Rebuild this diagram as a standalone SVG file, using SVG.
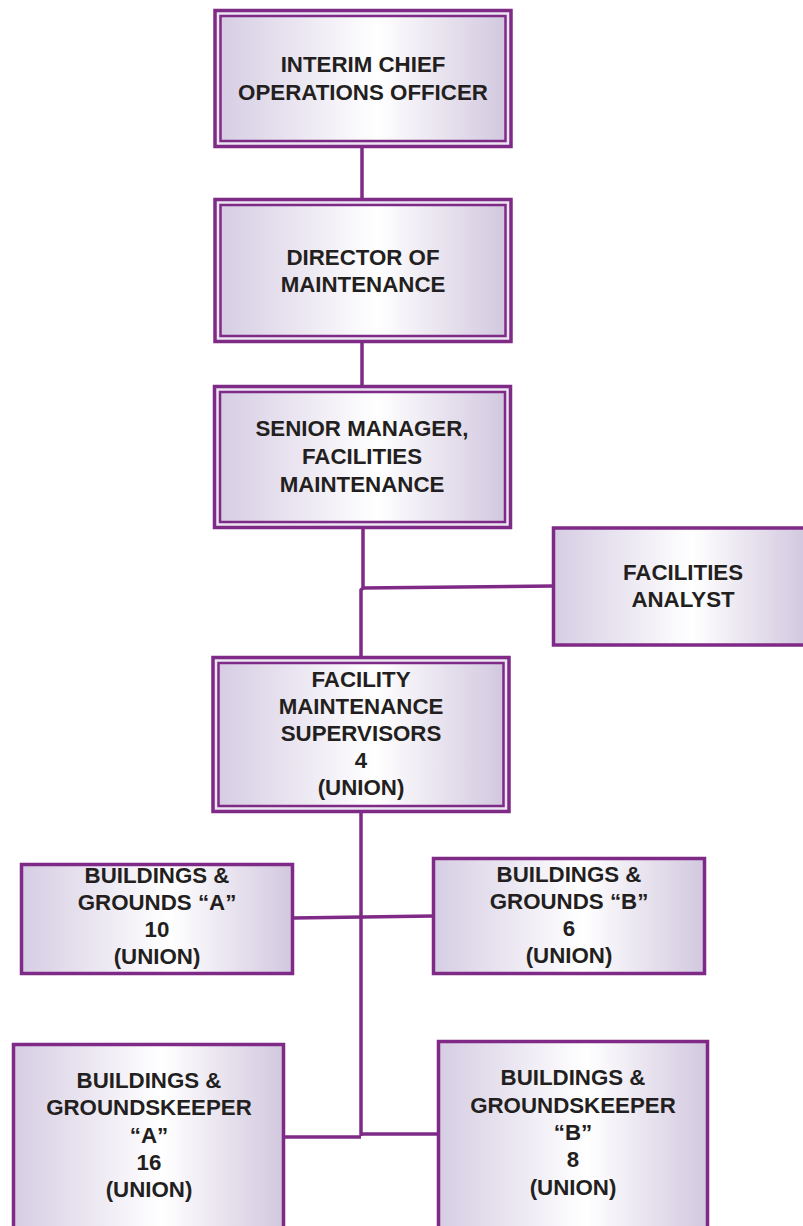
<svg xmlns="http://www.w3.org/2000/svg" width="803" height="1226" viewBox="0 0 803 1226">
  <defs>
    <linearGradient id="shade" x1="0" y1="0" x2="1" y2="0">
      <stop offset="0" stop-color="#d6cde3"/>
      <stop offset="0.55" stop-color="#ffffff"/>
      <stop offset="1" stop-color="#d2c8df"/>
    </linearGradient>
  </defs>
  <style>
    .frame { fill: #ebe6f1; stroke: #7f2a86; stroke-width: 3.5; }
    .inner { fill: url(#shade); stroke: #7f2a86; stroke-width: 2.5; }
    .box { fill: url(#shade); stroke: #7f2a86; stroke-width: 3.5; }
    .link { fill: none; stroke: #7f2a86; stroke-width: 3.5; }
    text { font-family: "Liberation Sans", Arial, sans-serif; font-weight: bold; font-size: 22.3px; fill: #231f20; text-anchor: middle; }
  </style>

  <!-- connectors -->
  <g id="connectors">
    <line class="link" x1="362" y1="148" x2="362" y2="199"/>
    <line class="link" x1="362" y1="342" x2="362" y2="386"/>
    <polyline class="link" points="363,529 363,588 361,590 361,657"/>
    <line class="link" x1="362" y1="588" x2="553" y2="586"/>
    <line class="link" x1="361" y1="813" x2="361" y2="1136"/>
    <line class="link" x1="293" y1="918" x2="433" y2="916"/>
    <line class="link" x1="285" y1="1137" x2="361" y2="1137"/>
    <line class="link" x1="361" y1="1134" x2="438" y2="1134"/>
  </g>

  <!-- top chain: double-framed boxes -->
  <g id="interim-chief">
    <rect class="frame" x="215" y="10.5" width="296" height="136"/>
    <rect class="inner" x="220.5" y="16" width="285" height="125"/>
    <text x="363" y="72">INTERIM CHIEF</text>
    <text x="363" y="100">OPERATIONS OFFICER</text>
  </g>

  <g id="director-maintenance">
    <rect class="frame" x="215" y="199.5" width="296" height="142"/>
    <rect class="inner" x="220.5" y="205" width="285" height="131"/>
    <text x="363" y="265">DIRECTOR OF</text>
    <text x="363" y="292">MAINTENANCE</text>
  </g>

  <g id="senior-manager">
    <rect class="frame" x="214.5" y="386.5" width="296" height="141"/>
    <rect class="inner" x="220" y="392" width="285" height="130"/>
    <text x="362" y="436">SENIOR MANAGER,</text>
    <text x="362" y="464">FACILITIES</text>
    <text x="362" y="492">MAINTENANCE</text>
  </g>

  <g id="facilities-analyst">
    <rect class="box" x="553.5" y="528" width="252" height="117"/>
    <text x="683" y="580">FACILITIES</text>
    <text x="683" y="607">ANALYST</text>
  </g>

  <g id="maintenance-supervisors">
    <rect class="frame" x="213" y="657.5" width="296" height="154"/>
    <rect class="inner" x="218.5" y="663" width="285" height="143"/>
    <text x="361" y="687">FACILITY</text>
    <text x="361" y="714">MAINTENANCE</text>
    <text x="361" y="741">SUPERVISORS</text>
    <text x="361" y="768">4</text>
    <text x="361" y="795">(UNION)</text>
  </g>

  <!-- crews -->
  <g id="grounds-a">
    <rect class="box" x="21.5" y="864.5" width="271" height="109"/>
    <text x="157" y="883">BUILDINGS &amp;</text>
    <text x="157" y="910">GROUNDS “A”</text>
    <text x="157" y="937">10</text>
    <text x="157" y="964">(UNION)</text>
  </g>

  <g id="grounds-b">
    <rect class="box" x="433.5" y="858.5" width="271" height="115"/>
    <text x="569" y="882">BUILDINGS &amp;</text>
    <text x="569" y="909">GROUNDS “B”</text>
    <text x="569" y="936">6</text>
    <text x="569" y="963">(UNION)</text>
  </g>

  <g id="groundskeeper-a">
    <rect class="box" x="13.5" y="1044.5" width="270" height="190"/>
    <text x="149" y="1088">BUILDINGS &amp;</text>
    <text x="149" y="1115">GROUNDSKEEPER</text>
    <text x="149" y="1143">“A”</text>
    <text x="149" y="1170">16</text>
    <text x="149" y="1197">(UNION)</text>
  </g>

  <g id="groundskeeper-b">
    <rect class="box" x="438.5" y="1041.5" width="269" height="190"/>
    <text x="573" y="1085">BUILDINGS &amp;</text>
    <text x="573" y="1113">GROUNDSKEEPER</text>
    <text x="573" y="1140">“B”</text>
    <text x="573" y="1167">8</text>
    <text x="573" y="1195">(UNION)</text>
  </g>
</svg>
